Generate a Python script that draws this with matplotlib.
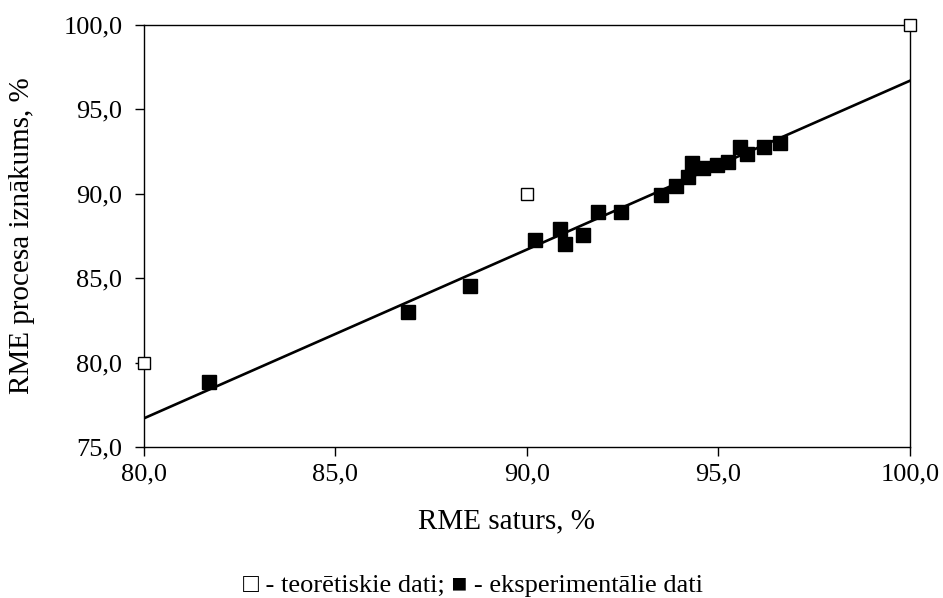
import matplotlib
matplotlib.use('Agg')
import matplotlib.pyplot as plt
import numpy as np

plt.rcParams['font.family'] = ['Liberation Serif', 'DejaVu Serif']

# teoretiskie dati
teor_x = [80.0, 90.0, 100.0]
teor_y = [80.0, 90.0, 100.0]

# eksperimentalie dati
eksp_x = [81.7, 86.9, 88.5, 90.2, 90.85, 91.0, 91.45, 91.85, 92.45,
          93.5, 93.9, 94.2, 94.3, 94.6, 94.95, 95.25, 95.55, 95.75, 96.2, 96.6]
eksp_y = [78.85, 83.0, 84.55, 87.25, 87.9, 87.05, 87.55, 88.9, 88.95,
          89.95, 90.45, 91.0, 91.8, 91.5, 91.7, 91.9, 92.8, 92.35, 92.8, 93.0]

# trenda linija: y = a + b*(x - 80)
trend_a = 76.7
trend_b = 1.0
trend_x = [80.0, 100.0]

x_ticks = [80, 85, 90, 95, 100]
y_ticks = [75, 80, 85, 90, 95, 100]

fig = plt.figure(figsize=(9.43, 5.98), dpi=100)
ax = fig.add_axes([0.1527, 0.2525, 0.965 - 0.1527, 0.9582 - 0.2525])

tx = np.array(trend_x)
ax.plot(tx, trend_a + trend_b * (tx - 80), color='black', linewidth=1.9, zorder=2)

ax.plot(eksp_x, eksp_y, linestyle='none', marker='s', markersize=9.5,
        color='black', zorder=3)
ax.plot(teor_x, teor_y, linestyle='none', marker='s', markersize=8,
        markerfacecolor='white', markeredgecolor='black', markeredgewidth=1.0,
        zorder=4, clip_on=False)

ax.set_xlim(80, 100)
ax.set_ylim(75, 100)
ax.set_xticks(x_ticks)
ax.set_yticks(y_ticks)
ax.set_xticklabels([f'{v:.1f}'.replace('.', ',') for v in x_ticks])
ax.set_yticklabels([f'{v:.1f}'.replace('.', ',') for v in y_ticks])
ax.tick_params(direction='out', length=6.5, width=1.0, labelsize=19)
ax.tick_params(axis='x', pad=5)
ax.tick_params(axis='y', pad=9)

for s in ax.spines.values():
    s.set_linewidth(1.0)

ax.set_xlabel('RME saturs, %', fontsize=21)
ax.xaxis.set_label_coords(0.4726, -0.145)
ax.set_ylabel('RME procesa iznākums, %', fontsize=21)
ax.yaxis.set_label_coords(-0.142, 0.5)

fig.text(0.502, 0.02, '□ - teorētiskie dati; ■ - eksperimentālie dati',
         ha='center', va='center', fontsize=19)

plt.savefig('out.png', dpi=100, facecolor='white')
